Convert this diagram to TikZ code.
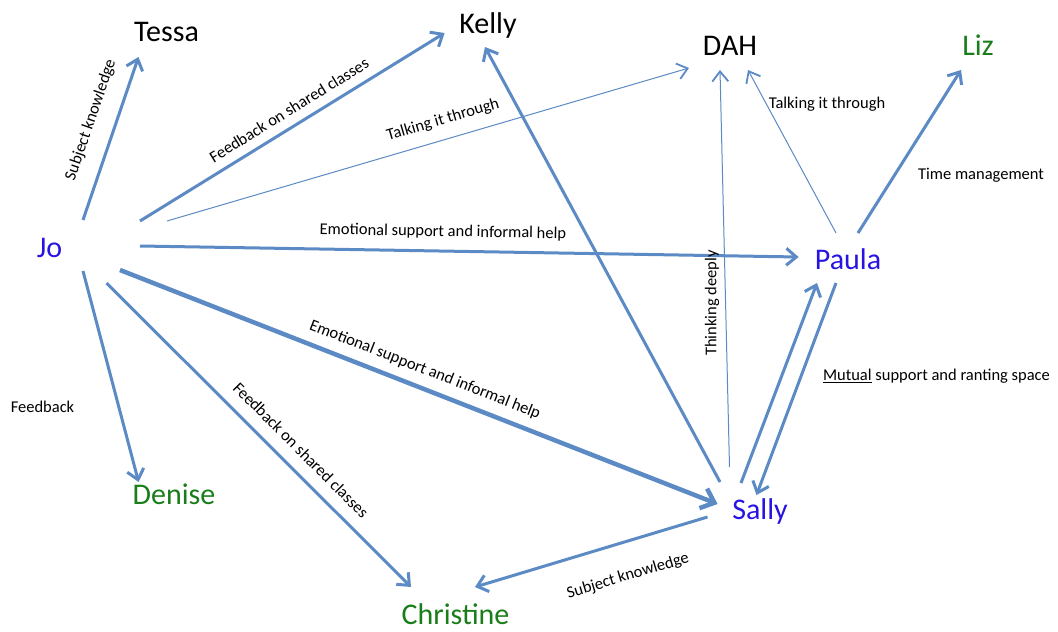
\documentclass[tikz,border=0pt]{standalone}
\usepackage{fontspec}
\setmainfont{Carlito}
\usetikzlibrary{arrows.meta}

\definecolor{linkblue}{RGB}{92,138,196}
\definecolor{teamblue}{RGB}{40,20,225}
\definecolor{teamgreen}{RGB}{25,125,25}

\begin{document}
\begin{tikzpicture}[
        x=1pt, y=-1pt,
        person/.style={font=\fontsize{30}{32}\selectfont, text height=19pt, text depth=0pt, inner sep=0pt},
        lbl/.style={font=\fontsize{16.5}{18}\selectfont, inner sep=0pt},
        link/.style={draw=linkblue, line width=3pt, -{Straight Barb[length=10pt, width=17pt]}},
        faint/.style={draw=linkblue, line width=1pt, -{Straight Barb[length=10pt, width=16pt, line width=1.8pt]}},
        heavy/.style={draw=linkblue, line width=4.5pt, -{Straight Barb[length=12pt, width=21pt]}}
        ]
        \useasboundingbox (0,0) rectangle (1058,632);
        % people
        \node[person]                  (tessa)     at (166.5,31.5) {Tessa};
        \node[person]                  (kelly)     at (488,23.5)   {Kelly};
        \node[person]                  (dah)       at (730,46)     {DAH};
        \node[person, text=teamgreen]  (liz)       at (978,46)     {Liz};
        \node[person, text=teamblue]   (jo)        at (49.5,247.5) {Jo};
        \node[person, text=teamblue]   (paula)     at (848,260)    {Paula};
        \node[person, text=teamgreen]  (denise)    at (174,494.5)  {Denise};
        \node[person, text=teamblue]   (sally)     at (760,510)    {Sally};
        \node[person, text=teamgreen]  (christine) at (455.5,615)  {Christine};
        % links from Jo
        \draw[link]  ([shift={(33.5,-27.5)}]jo.center) -- ([shift={(-28,25.5)}]tessa.center);
        \draw[link]  ([shift={(90.5,-26.5)}]jo.center) -- ([shift={(-43.4,9.5)}]kelly.center);
        \draw[faint] ([shift={(117.5,-26.5)}]jo.center) -- ([shift={(-41,22)}]dah.center);
        \draw[link]  ([shift={(90.5,-1.5)}]jo.center) -- ([shift={(-49.4,-3)}]paula.center);
        \draw[heavy] ([shift={(70.5,22.5)}]jo.center) -- ([shift={(-42.4,-6)}]sally.center);
        \draw[link]  ([shift={(33.5,23.5)}]jo.center) -- ([shift={(-35.4,-12.5)}]denise.center);
        \draw[link]  ([shift={(57,35.5)}]jo.center) -- ([shift={(-44.5,-28)}]christine.center);
        % links from Sally and Paula
        \draw[link]  ([shift={(-40,-28)}]sally.center) -- ([shift={(-3,23.5)}]kelly.center);
        \draw[faint] ([shift={(-30.5,-43)}]sally.center) -- ([shift={(-10,24)}]dah.center);
        \draw[faint] ([shift={(-12,-27)}]paula.center) -- ([shift={(18,24)}]dah.center);
        \draw[link]  ([shift={(10,-27)}]paula.center) -- ([shift={(-17,24)}]liz.center);
        \draw[link]  ([shift={(-19,-27)}]sally.center) -- ([shift={(-31,23)}]paula.center);
        \draw[link]  ([shift={(-12,23)}]paula.center) -- ([shift={(-3.5,-15)}]sally.center);
        \draw[link]  ([shift={(-52.5,7)}]sally.center) -- ([shift={(19.5,-28)}]christine.center);
        % labels
        \node[lbl, rotate=71]    (l-subj1)  at (91,120)   {Subject knowledge};
        \node[lbl, rotate=31.7]  (l-fb1)    at (289,110)  {Feedback on shared classes};
        \node[lbl, rotate=16.3]  (l-talk1)  at (443,120)  {Talking it through};
        \node[lbl, rotate=-1]    (l-emo1)   at (443,232)  {Emotional support and informal help};
        \node[lbl, rotate=-21.4] (l-emo2)   at (425,370)  {Emotional support and informal help};
        \node[lbl]               (l-fb2)    at (42.5,407) {Feedback};
        \node[lbl, rotate=-45]   (l-fb3)    at (301,450)  {Feedback on shared classes};
        \node[lbl, rotate=90]    (l-think)  at (712,303)  {Thinking deeply};
        \node[lbl]               (l-talk2)  at (827,104)  {Talking it through};
        \node[lbl]               (l-time)   at (981,175)  {Time management};
        \node[lbl]               (l-mutual) at (936.5,376) {\underline{Mutual} support and ranting space};
        \node[lbl, rotate=16.7]  (l-subj2)  at (628,576)  {Subject knowledge};
    \end{tikzpicture}
\end{document}
